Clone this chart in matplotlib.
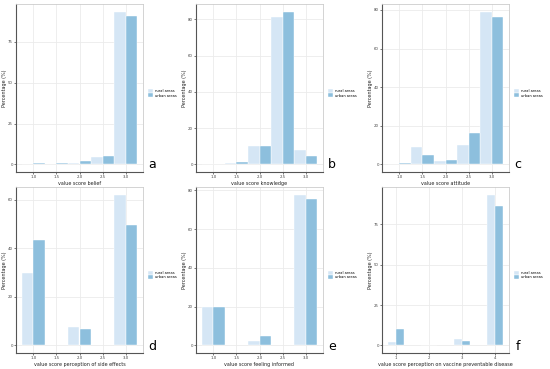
import numpy as np
import matplotlib.pyplot as plt

# bar pair centres and percentages per panel
x_belief = [1.0, 1.5, 2.0, 2.5, 3.0]
rural_belief = [0, 0.3, 1.0, 4.7, 93.5]
urban_belief = [0.8, 0.6, 2.3, 5.2, 91.0]

x_knowledge = [1.0, 1.5, 2.0, 2.5, 3.0]
rural_knowledge = [0, 0.8, 10.1, 81.3, 7.7]
urban_knowledge = [0.2, 1.1, 10.1, 84.2, 4.6]

x_attitude = [1.0, 1.5, 2.0, 2.5, 3.0]
rural_attitude = [0, 9.0, 1.7, 10.2, 79.1]
urban_attitude = [0.5, 5.0, 2.2, 16.2, 76.2]

x_side = [1.0, 2.0, 3.0]
rural_side = [29.9, 7.7, 62.1]
urban_side = [43.4, 6.9, 49.6]

x_informed = [1.0, 2.0, 3.0]
rural_informed = [19.9, 2.1, 77.8]
urban_informed = [19.7, 5.0, 75.4]

x_disease = [1, 2, 3, 4]
rural_disease = [2.4, 0, 4.1, 93.3]
urban_disease = [10.3, 0, 2.8, 86.4]

panels = [
    (x_belief, rural_belief, urban_belief, "value score belief", [1.0, 1.5, 2.0, 2.5, 3.0], [0, 25, 50, 75], "a"),
    (x_knowledge, rural_knowledge, urban_knowledge, "value score knowledge", [1.0, 1.5, 2.0, 2.5, 3.0], [0, 20, 40, 60, 80], "b"),
    (x_attitude, rural_attitude, urban_attitude, "value score attitude", [1.0, 1.5, 2.0, 2.5, 3.0], [0, 20, 40, 60, 80], "c"),
    (x_side, rural_side, urban_side, "value score perception of side effects", [1.0, 1.5, 2.0, 2.5, 3.0], [0, 20, 40, 60], "d"),
    (x_informed, rural_informed, urban_informed, "value score feeling informed", [1.0, 1.5, 2.0, 2.5, 3.0], [0, 20, 40, 60, 80], "e"),
    (x_disease, rural_disease, urban_disease, "value score perception on vaccine preventable disease", [1, 2, 3, 4], [0, 25, 50, 75], "f"),
]

rural_col = "#d5e6f5"
urban_col = "#8dbfdd"
W, H = 550, 369
fig = plt.figure(figsize=(5.5, 3.69), dpi=100)

cols = [(16, 143), (196, 323), (382, 509)]
rows = [(4, 172), (187, 353)]

for i, (xs, rur, urb, xlab, xt, yt, letter) in enumerate(panels):
    (l, r), (t, b) = cols[i % 3], rows[i // 3]
    ax = fig.add_axes([l / W, 1 - b / H, (r - l) / W, (b - t) / H])
    xs = np.array(xs, dtype=float)
    w = 0.25
    ax.bar(xs - w / 2, rur, width=w, color=rural_col, edgecolor="white", linewidth=0.3,
           label="rural areas", zorder=2)
    ax.bar(xs + w / 2, urb, width=w, color=urban_col, edgecolor="white", linewidth=0.3,
           label="urban areas", zorder=2)
    lo, hi = xs.min() - w, xs.max() + w
    pad = 0.05 * (hi - lo)
    ax.set_xlim(lo - pad, hi + pad)
    ymax = max(max(rur), max(urb))
    ax.set_ylim(-0.05 * ymax, 1.05 * ymax)
    ax.set_xticks(xt)
    if isinstance(xt[0], int):
        ax.set_xticklabels([str(v) for v in xt])
    else:
        ax.set_xticklabels([f"{v:.1f}" for v in xt])
    ax.set_yticks(yt)
    ax.grid(True, color="#ebebeb", linewidth=0.6, zorder=0)
    ax.tick_params(labelsize=2.8, length=1.2, width=0.5, colors="#444444", pad=1)
    for s in ["top", "right"]:
        ax.spines[s].set_color("#cccccc")
        ax.spines[s].set_linewidth(0.6)
    for s in ["left", "bottom"]:
        ax.spines[s].set_color("#555555")
        ax.spines[s].set_linewidth(0.8)
    ax.set_xlabel(xlab, fontsize=3.5, labelpad=1.5, color="#222222")
    ax.set_ylabel("Percentage (%)", fontsize=3.5, labelpad=1, color="#222222")
    ax.legend(loc="center left", bbox_to_anchor=(1.03, 0.47), frameon=False,
              fontsize=2.6, handlelength=1.3, handleheight=1.4, handletextpad=0.5,
              labelspacing=0.1, borderaxespad=0)
    fig.text((r + 9) / W, 1 - (b - 7) / H, letter, fontsize=9, ha="center", va="center")

fig.savefig("out.png", dpi=100)
